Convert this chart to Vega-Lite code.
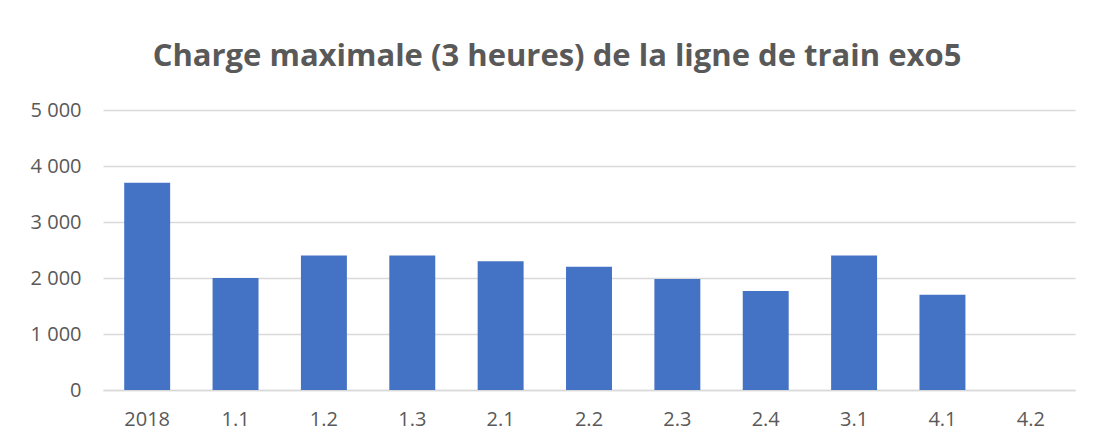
{
  "$schema": "https://vega.github.io/schema/vega-lite/v6.json",
  "autosize": {"type": "none"},
  "padding": {"left": 103, "top": 110, "right": 19, "bottom": 55},
  "width": 972,
  "height": 280,
  "background": "white",
  "title": {
    "text": "Charge maximale (3 heures) de la ligne de train exo5",
    "font": "Open Sans",
    "fontSize": 31,
    "fontWeight": "bold",
    "color": "#595959",
    "anchor": "middle",
    "frame": "group",
    "dx": -32,
    "offset": 27
  },
  "data": {
    "values": [
      {"periode": "2018", "charge": 3700},
      {"periode": "1.1", "charge": 2000},
      {"periode": "1.2", "charge": 2400},
      {"periode": "1.3", "charge": 2400},
      {"periode": "2.1", "charge": 2300},
      {"periode": "2.2", "charge": 2200},
      {"periode": "2.3", "charge": 1980},
      {"periode": "2.4", "charge": 1770},
      {"periode": "3.1", "charge": 2400},
      {"periode": "4.1", "charge": 1700},
      {"periode": "4.2", "charge": 0}
    ]
  },
  "mark": {"type": "bar", "color": "#4472C4"},
  "encoding": {
    "x": {
      "field": "periode",
      "type": "nominal",
      "sort": null,
      "scale": {"paddingInner": 0.48, "paddingOuter": 0.24},
      "axis": {
        "title": null,
        "labelAngle": 0,
        "labelFont": "Open Sans",
        "labelFontSize": 20,
        "labelColor": "#595959",
        "labelPadding": 19,
        "ticks": false,
        "domainColor": "#d9d9d9",
        "domainWidth": 1.5
      }
    },
    "y": {
      "field": "charge",
      "type": "quantitative",
      "scale": {"domain": [0, 5000]},
      "axis": {
        "title": null,
        "values": [0, 1000, 2000, 3000, 4000, 5000],
        "labelExpr": "replace(format(datum.value, ','), ',', ' ')",
        "labelFont": "Open Sans",
        "labelFontSize": 20,
        "labelColor": "#595959",
        "labelPadding": 22,
        "ticks": false,
        "domain": false,
        "gridColor": "#d9d9d9",
        "gridWidth": 1.5
      }
    }
  },
  "config": {"view": {"stroke": null}}
}
